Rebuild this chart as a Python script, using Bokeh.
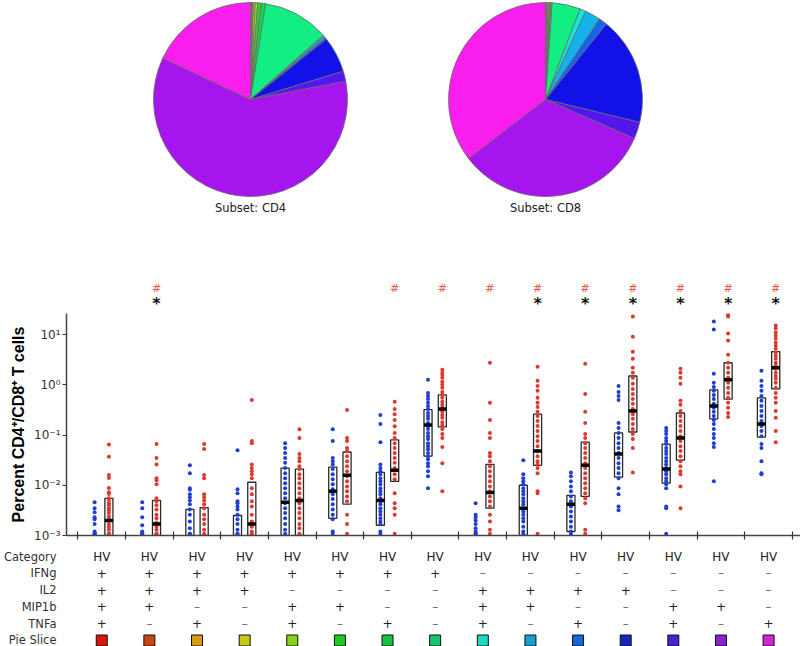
import numpy as np
from bokeh.plotting import figure
from bokeh.models import Range1d, FixedTicker, CustomJSTickFormatter, ColumnDataSource
from bokeh.layouts import column
from bokeh.core.properties import value
from bokeh.embed import file_html
from bokeh.resources import INLINE

# ---------------- data ----------------
cat_index = list(range(1, 16))
categories = ["HV", "HV", "HV", "HV", "HV", "HV", "HV", "HV", "HV", "HV", "HV", "HV", "HV", "HV", "HV"]
row_labels = ["Category", "IFNg", "IL2", "MIP1b", "TNFa", "Pie Slice"]
ifng  = ["+", "+", "+", "+", "+", "+", "+", "+", "-", "-", "-", "-", "-", "-", "-"]
il2   = ["+", "+", "+", "+", "-", "-", "-", "-", "+", "+", "+", "+", "-", "-", "-"]
mip1b = ["+", "+", "-", "-", "+", "+", "-", "-", "+", "+", "-", "-", "+", "+", "-"]
tnfa  = ["+", "-", "+", "-", "+", "-", "+", "-", "+", "-", "+", "-", "+", "-", "+"]

pie_titles = ["Subset: CD4", "Subset: CD8"]
cd4_pct = [0.2, 0.1, 0.2, 0.3, 0.4, 0.6, 0.7, 11.0, 0.2, 0.3, 0.3, 6.0, 1.7, 60.0, 18.0]
cd8_pct = [0.1, 0.1, 0.2, 0.1, 0.2, 0.2, 0.2, 4.7, 1.0, 2.6, 1.4, 18.0, 2.8, 33.0, 35.4]

hash_flags = [0, 1, 0, 0, 0, 0, 1, 1, 1, 1, 1, 1, 1, 1, 1]
star_flags = [0, 1, 0, 0, 0, 0, 0, 0, 0, 1, 1, 1, 1, 1, 1]

blue_vals = [
    [0.0046, 0.0035, 0.0029, 0.0023, 0.0021, 0.0017, 0.0012, 0.001, 0.001, 0.001, 0.001],
    [0.0046, 0.0035, 0.0023, 0.0016, 0.0012, 0.001, 0.001, 0.001, 0.001],
    [0.025, 0.0174, 0.0087, 0.0081, 0.0066, 0.0058, 0.005, 0.0042, 0.0033, 0.0026, 0.0019, 0.0014, 0.001, 0.001],
    [0.05, 0.0083, 0.0069, 0.0048, 0.0044, 0.0038, 0.0033, 0.0026, 0.0021, 0.0017, 0.0013, 0.001, 0.001],
    [0.069, 0.055, 0.044, 0.035, 0.028, 0.022, 0.0174, 0.0138, 0.011, 0.0087, 0.0069, 0.0055, 0.0044, 0.0035, 0.0028, 0.0022, 0.0017, 0.0013, 0.001],
    [0.13, 0.076, 0.035, 0.03, 0.026, 0.021, 0.0166, 0.0132, 0.0105, 0.0083, 0.0066, 0.0053, 0.0042, 0.0033, 0.0026, 0.0021, 0.0012, 0.001],
    [0.25, 0.166, 0.072, 0.026, 0.022, 0.019, 0.0166, 0.0138, 0.012, 0.0105, 0.0087, 0.0076, 0.0066, 0.0055, 0.0048, 0.0042, 0.0035, 0.003, 0.0026, 0.0022, 0.0019, 0.0017, 0.0012, 0.001],
    [1.26, 0.69, 0.6, 0.52, 0.44, 0.38, 0.33, 0.275, 0.24, 0.21, 0.174, 0.151, 0.132, 0.11, 0.095, 0.083, 0.069, 0.06, 0.052, 0.044, 0.038, 0.033, 0.0275, 0.024, 0.019, 0.0151, 0.0087],
    [0.0044, 0.0026, 0.0023, 0.002, 0.0017, 0.0014, 0.0012, 0.001, 0.001, 0.001],
    [0.0316, 0.0166, 0.0138, 0.012, 0.0105, 0.0087, 0.0076, 0.0066, 0.0055, 0.0048, 0.0042, 0.0035, 0.003, 0.0026, 0.0022, 0.0019, 0.0015, 0.0012, 0.001],
    [0.018, 0.0151, 0.012, 0.0095, 0.0076, 0.006, 0.0048, 0.0038, 0.003, 0.0024, 0.0019, 0.0015, 0.0012, 0.001],
    [0.95, 0.72, 0.6, 0.5, 0.174, 0.138, 0.11, 0.087, 0.069, 0.055, 0.044, 0.035, 0.0275, 0.022, 0.0174, 0.0138, 0.0087, 0.0066, 0.0038, 0.0032],
    [0.138, 0.12, 0.105, 0.087, 0.076, 0.066, 0.055, 0.048, 0.042, 0.035, 0.03, 0.026, 0.022, 0.019, 0.0166, 0.0138, 0.012, 0.0105, 0.0087, 0.0038, 0.0035, 0.001],
    [18.2, 12.6, 1.66, 1.1, 0.91, 0.76, 0.63, 0.52, 0.42, 0.35, 0.29, 0.24, 0.2, 0.166, 0.132, 0.105, 0.087, 0.069, 0.058, 0.012],
    [1.9, 1.2, 0.95, 0.76, 0.6, 0.48, 0.38, 0.3, 0.24, 0.19, 0.151, 0.12, 0.095, 0.066, 0.055, 0.03, 0.0174, 0.0166],
]
red_vals = [
    [0.065, 0.037, 0.016, 0.014, 0.0088, 0.0073, 0.0067, 0.0055, 0.0051, 0.0044, 0.004, 0.0035, 0.0032, 0.0028, 0.0024, 0.0021, 0.0017, 0.0015, 0.0013, 0.0011, 0.001],
    [0.066, 0.035, 0.026, 0.0138, 0.0126, 0.0105, 0.0055, 0.0048, 0.004, 0.0033, 0.0026, 0.0022, 0.0018, 0.0015, 0.0013, 0.0011, 0.001],
    [0.066, 0.053, 0.016, 0.0138, 0.0066, 0.0058, 0.005, 0.0042, 0.0035, 0.0026, 0.0021, 0.0017, 0.0013, 0.001],
    [0.5, 0.076, 0.069, 0.026, 0.022, 0.019, 0.0166, 0.0138, 0.0087, 0.0066, 0.0048, 0.0038, 0.0026, 0.0019, 0.0015, 0.0012, 0.001],
    [0.13, 0.087, 0.042, 0.035, 0.03, 0.024, 0.021, 0.0166, 0.0138, 0.011, 0.0087, 0.0069, 0.0055, 0.0044, 0.0035, 0.0028, 0.0022, 0.0017, 0.0014, 0.001],
    [0.316, 0.087, 0.076, 0.055, 0.048, 0.038, 0.03, 0.024, 0.019, 0.0151, 0.012, 0.0095, 0.0076, 0.006, 0.0048, 0.0026, 0.0017, 0.001],
    [0.46, 0.33, 0.26, 0.2, 0.15, 0.11, 0.087, 0.069, 0.055, 0.044, 0.035, 0.028, 0.022, 0.0166, 0.0132, 0.0069, 0.0044, 0.0035, 0.0026, 0.001],
    [2.0, 1.74, 1.58, 1.38, 1.15, 1.0, 0.87, 0.72, 0.63, 0.55, 0.46, 0.4, 0.35, 0.29, 0.25, 0.22, 0.18, 0.158, 0.132, 0.105, 0.087, 0.058, 0.0275, 0.0076],
    [2.75, 0.44, 0.2, 0.11, 0.087, 0.044, 0.038, 0.03, 0.024, 0.019, 0.0151, 0.012, 0.0095, 0.0076, 0.006, 0.0048, 0.0038, 0.0026, 0.0019, 0.0013, 0.001],
    [2.29, 1.2, 0.95, 0.76, 0.55, 0.44, 0.36, 0.29, 0.24, 0.19, 0.151, 0.12, 0.095, 0.076, 0.06, 0.048, 0.038, 0.03, 0.026, 0.022, 0.0174, 0.0076, 0.0069, 0.001],
    [2.63, 0.66, 0.29, 0.174, 0.105, 0.087, 0.069, 0.055, 0.044, 0.035, 0.0275, 0.022, 0.0174, 0.0138, 0.011, 0.0087, 0.0069, 0.0055, 0.0044, 0.0013, 0.001],
    [22.9, 9.1, 4.57, 3.3, 2.19, 1.74, 1.38, 1.05, 0.83, 0.66, 0.52, 0.42, 0.33, 0.26, 0.21, 0.166, 0.132, 0.105, 0.083, 0.055, 0.018],
    [2.09, 1.74, 1.38, 1.05, 0.48, 0.4, 0.3, 0.24, 0.19, 0.151, 0.12, 0.095, 0.076, 0.06, 0.048, 0.038, 0.03, 0.024, 0.019, 0.0166, 0.0095, 0.0035],
    [25.0, 22.9, 10.5, 7.6, 3.98, 2.75, 2.19, 1.74, 1.38, 1.1, 0.87, 0.69, 0.55, 0.44, 0.35, 0.275, 0.23],
    [15.1, 13.2, 11.0, 9.5, 8.3, 6.9, 6.0, 5.2, 4.4, 3.8, 3.3, 2.75, 2.4, 2.1, 1.74, 1.5, 1.32, 1.1, 0.87, 0.69, 0.55, 0.44, 0.3, 0.22, 0.12, 0.072],
]

blue_q1  = [0.001, 0.001, 0.001, 0.001, 0.001, 0.0022, 0.0016, 0.038, 0.001, 0.001, 0.0012, 0.0145, 0.011, 0.21, 0.091]
blue_q3  = [0.001, 0.001, 0.0033, 0.0025, 0.022, 0.023, 0.018, 0.32, 0.001, 0.01, 0.0063, 0.11, 0.066, 0.79, 0.55]
blue_med = [0.001, 0.001, 0.001, 0.001, 0.0046, 0.0076, 0.005, 0.158, 0.001, 0.0035, 0.0042, 0.042, 0.021, 0.38, 0.166]
red_q1   = [0.001, 0.001, 0.001, 0.001, 0.001, 0.0042, 0.012, 0.145, 0.0035, 0.025, 0.006, 0.115, 0.0316, 0.52, 0.83]
red_q3   = [0.0055, 0.005, 0.0036, 0.0115, 0.021, 0.046, 0.08, 0.63, 0.026, 0.26, 0.072, 1.5, 0.275, 2.75, 4.6]
red_med  = [0.002, 0.0017, 0.001, 0.0017, 0.005, 0.0158, 0.02, 0.33, 0.0072, 0.048, 0.025, 0.3, 0.087, 1.26, 2.19]

y_ticks = [0.001, 0.01, 0.1, 1, 10]

# ---------------- styles ----------------
pie_colors = ["#ec1a0e", "#d8500e", "#e0a40c", "#d8d818", "#92e818", "#2cd82c", "#16d650", "#12ee84",
              "#14e8d4", "#14b2ea", "#1664ea", "#1212e8", "#5416ee", "#a614ee", "#fa1eee"]
key_colors = ["#d8180e", "#c84610", "#d89a0e", "#c8c818", "#86d41a", "#22c822", "#14c440", "#12c870",
              "#1cd8c0", "#14a0d0", "#1866d8", "#1428c0", "#4822d0", "#8a22d0", "#d028d0"]
BLUE = "#1f3fd2"
RED = "#dc3a2e"
OFF = 0.15
BOXW = 0.17
FLOOR = 0.00108
LEFT = 66
W = 800
FONT = value("DejaVu Sans")

def base(height, xr, yr, **kw):
    f = figure(width=W, height=height, x_range=xr, y_range=yr, toolbar_location=None,
               output_backend="svg", min_border_left=LEFT, min_border_right=0,
               min_border_top=0, min_border_bottom=0, **kw)
    f.outline_line_color = None
    f.grid.visible = False
    return f

# ---------------- pies (frame spans page x 66..800, y 0..270 in page pixels) ----------------
p_pie = base(270, Range1d(LEFT, W), Range1d(-270, 0), x_axis_type=None, y_axis_type=None)
for pct, cx, title in [(cd4_pct, 250, pie_titles[0]), (cd8_pct, 545, pie_titles[1])]:
    frac = np.array(pct) / np.sum(pct)
    cum = np.cumsum(frac)
    prev = np.concatenate([[0.0], cum[:-1]])
    src = ColumnDataSource(dict(x=[cx] * len(pct), y=[-99] * len(pct),
                                start=np.pi / 2 - 2 * np.pi * prev, end=np.pi / 2 - 2 * np.pi * cum,
                                color=pie_colors))
    p_pie.wedge(x="x", y="y", radius=97, start_angle="start", end_angle="end", direction="clock",
                fill_color="color", line_color="#6a6a6a", line_width=0.8, source=src)
    p_pie.text(x=[cx], y=[-207], text=[title], text_align="center", text_baseline="middle",
               text_font=FONT, text_font_size="11.5px", text_color="#222222")

# ---------------- shared x range ----------------
xr = Range1d(0.26, 15.67)

# ---------------- significance marks (page y 270..313) ----------------
p_mark = base(43, xr, Range1d(-313, -270), x_axis_type=None, y_axis_type=None)
hx = [c + OFF for c, f in zip(cat_index, hash_flags) if f]
sx = [c + OFF for c, f in zip(cat_index, star_flags) if f]
p_mark.text(x=hx, y=[-288] * len(hx), text=["#"] * len(hx), text_align="center", text_baseline="middle",
            text_font=FONT, text_font_size="11px", text_color="#e8564c")
p_mark.text(x=sx, y=[-303] * len(sx), text=["*"] * len(sx), text_align="center", text_baseline="middle",
            text_font=FONT, text_font_size="16px", text_font_style="bold", text_color="#111111")

# ---------------- scatter (frame page y 313..535) ----------------
p = base(230, xr, Range1d(0.001, 10 ** 1.42), y_axis_type="log")
p.min_border_bottom = 8

bx, by, rx, ry = [], [], [], []
for c, bv, rv in zip(cat_index, blue_vals, red_vals):
    bx += [c - OFF] * len(bv)
    by += bv
    rx += [c + OFF] * len(rv)
    ry += rv
by = np.maximum(np.array(by), FLOOR)
ry = np.maximum(np.array(ry), FLOOR)

def boxes(q1, q3, med, off):
    idx = [i for i in range(15) if q3[i] > 0.001]
    box = dict(left=[cat_index[i] + off - BOXW / 2 for i in idx],
               right=[cat_index[i] + off + BOXW / 2 for i in idx],
               bottom=[q1[i] for i in idx], top=[q3[i] for i in idx])
    midx = [i for i in range(15) if med[i] > 0.001]
    m = dict(x0=[cat_index[i] + off - BOXW / 2 for i in midx],
             x1=[cat_index[i] + off + BOXW / 2 for i in midx],
             y=[med[i] for i in midx])
    return box, m

bbox, bmed = boxes(blue_q1, blue_q3, blue_med, -OFF)
rbox, rmed = boxes(red_q1, red_q3, red_med, OFF)
for bb in (bbox, rbox):
    p.quad(left=bb["left"], right=bb["right"], bottom=bb["bottom"], top=bb["top"],
           fill_color=None, line_color="#2a2a2a", line_width=1.3)
p.scatter(bx, by, size=4, color=BLUE, line_width=0)
p.scatter(rx, ry, size=4, color=RED, line_width=0)
for mm in (bmed, rmed):
    p.segment(x0=mm["x0"], x1=mm["x1"], y0=mm["y"], y1=mm["y"], line_color="black", line_width=3.5)

p.yaxis.ticker = FixedTicker(ticks=y_ticks)
p.yaxis.formatter = CustomJSTickFormatter(code="""
const e = Math.round(Math.log10(tick));
const sup = {"-": "\u207b", "0": "\u2070", "1": "\u00b9", "2": "\u00b2", "3": "\u00b3"};
return "10" + String(e).split("").map(c => sup[c]).join("");
""")
p.yaxis.major_label_text_font = "DejaVu Sans"
p.yaxis.major_label_text_font_size = "12px"
p.yaxis.major_label_text_color = "#333333"
p.yaxis.major_label_standoff = 2
p.yaxis.major_tick_in = 0
p.yaxis.major_tick_out = 4
p.yaxis.minor_tick_line_color = None
p.yaxis.axis_label = "Percent CD4\u207a/CD8\u207a T cells"
p.yaxis.axis_label_text_font = "Liberation Sans"
p.yaxis.axis_label_text_font_style = "bold"
p.yaxis.axis_label_text_font_size = "16px"
p.yaxis.axis_label_text_color = "#000000"
p.yaxis.axis_label_standoff = 4
p.xaxis.ticker = FixedTicker(ticks=[c - 0.5 for c in cat_index] + [15.5])
p.xaxis.formatter = CustomJSTickFormatter(code="return '';")
p.xaxis.major_label_text_font_size = "1px"
p.xaxis.major_label_standoff = 0
p.xaxis.major_tick_in = 4
p.xaxis.major_tick_out = 4
p.xaxis.minor_tick_line_color = None
for ax in (p.xaxis, p.yaxis):
    ax.axis_line_color = "#444444"
    ax.axis_line_width = 1.5
    ax.major_tick_line_color = "#333333"
    ax.major_tick_line_width = 1.2

# ---------------- table (page y 543..646, rows 556 + 16.8*k) ----------------
pt = base(103, xr, Range1d(5.357, -0.774), x_axis_type=None)
pt.yaxis.ticker = FixedTicker(ticks=list(range(len(row_labels))))
pt.yaxis.major_label_overrides = {i: lab for i, lab in enumerate(row_labels)}
pt.yaxis.major_label_text_font = "DejaVu Sans"
pt.yaxis.major_label_text_font_size = "11.5px"
pt.yaxis.major_label_text_color = "#333333"
pt.yaxis.major_label_standoff = 10
pt.yaxis.major_tick_out = 0
pt.yaxis.major_tick_in = 0
pt.yaxis.axis_line_color = None
pt.yaxis.major_tick_line_color = None
pt.yaxis.minor_tick_line_color = None

pt.text(x=cat_index, y=[0] * 15, text=categories, text_align="center", text_baseline="middle",
        text_font=FONT, text_font_size="12px", text_color="#222222")
tx, ty, tt, tc = [], [], [], []
for r, row in enumerate([ifng, il2, mip1b, tnfa], start=1):
    for c, s in zip(cat_index, row):
        tx.append(c)
        ty.append(r)
        tt.append("+" if s == "+" else "\u2013")
        tc.append("#222222" if s == "+" else "#6a6a6a")
pt.text(x=tx, y=ty, text=tt, text_color=tc, text_align="center", text_baseline="middle",
        text_font=FONT, text_font_size="12px")
pt.scatter(x=cat_index, y=[5] * 15, marker="square", size=11, fill_color=key_colors,
           line_color="#111111", line_width=1)

layout = column(p_pie, p_mark, p, pt)
open("out.html", "w").write(file_html(layout, INLINE))
